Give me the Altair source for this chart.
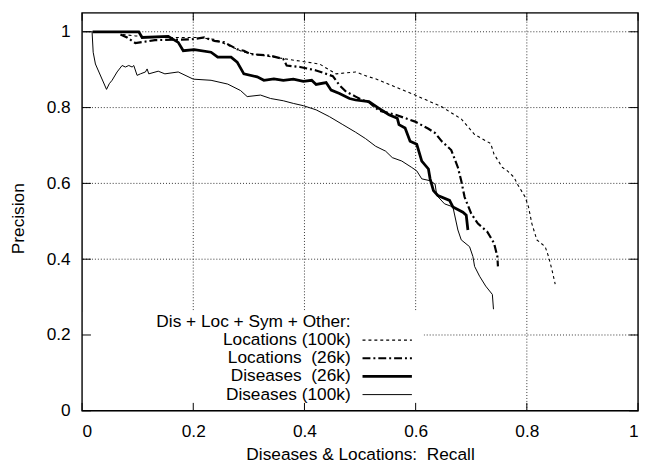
import altair as alt
import pandas as pd

# ---- data ----
x_ticks = [0, 0.2, 0.4, 0.6, 0.8, 1.0]
y_ticks = [0, 0.2, 0.4, 0.6, 0.8, 1.0]
grid_x = [0.2, 0.4, 0.6, 0.8]
grid_y = [0.2, 0.4, 0.6, 0.8, 1.0]

legend_title = "Dis + Loc + Sym + Other:"
series_names = ["Locations (100k)", "Locations\u00a0 (26k)", "Diseases\u00a0 (26k)", "Diseases (100k)"]

loc100_recall = [0.073, 0.096, 0.137, 0.208, 0.238, 0.291, 0.345, 0.427, 0.457, 0.492, 0.516, 0.528,
                 0.599, 0.647, 0.682, 0.706, 0.735, 0.741, 0.756, 0.765, 0.777, 0.783, 0.797, 0.803,
                 0.809, 0.818, 0.833, 0.839, 0.845, 0.851]
loc100_prec = [0.993, 0.989, 0.985, 0.985, 0.980, 0.946, 0.933, 0.915, 0.889, 0.894, 0.881, 0.876,
               0.833, 0.802, 0.770, 0.729, 0.705, 0.677, 0.642, 0.633, 0.616, 0.598, 0.564, 0.538,
               0.494, 0.451, 0.433, 0.407, 0.373, 0.334]

loc26_recall = [0.069, 0.081, 0.096, 0.131, 0.196, 0.220, 0.238, 0.256, 0.279, 0.291, 0.303, 0.339,
                0.362, 0.368, 0.392, 0.421, 0.451, 0.463, 0.475, 0.492, 0.504, 0.516, 0.534, 0.564,
                0.599, 0.623, 0.635, 0.647, 0.664, 0.676, 0.682, 0.688, 0.700, 0.712, 0.729, 0.741,
                0.747, 0.748]
loc26_prec = [0.993, 0.985, 0.970, 0.978, 0.980, 0.985, 0.976, 0.972, 0.954, 0.950, 0.941, 0.937,
              0.928, 0.911, 0.907, 0.898, 0.883, 0.859, 0.842, 0.829, 0.820, 0.814, 0.792, 0.781,
              0.763, 0.744, 0.733, 0.711, 0.688, 0.642, 0.607, 0.564, 0.520, 0.494, 0.472, 0.442,
              0.407, 0.381]

dis26_recall = [0.019, 0.102, 0.108, 0.155, 0.173, 0.182, 0.202, 0.232, 0.244, 0.268, 0.279, 0.291,
                0.315, 0.327, 0.345, 0.362, 0.380, 0.398, 0.413, 0.421, 0.439, 0.448, 0.463, 0.481,
                0.492, 0.516, 0.534, 0.552, 0.567, 0.570, 0.581, 0.590, 0.602, 0.611, 0.623, 0.626,
                0.632, 0.640, 0.661, 0.667, 0.685, 0.691, 0.694]
dis26_prec = [1.0, 1.0, 0.985, 0.988, 0.972, 0.950, 0.953, 0.946, 0.933, 0.933, 0.920, 0.889,
              0.881, 0.872, 0.876, 0.872, 0.875, 0.869, 0.872, 0.861, 0.866, 0.846, 0.837, 0.824,
              0.820, 0.816, 0.798, 0.781, 0.772, 0.755, 0.746, 0.711, 0.703, 0.659, 0.638, 0.612,
              0.581, 0.568, 0.555, 0.538, 0.524, 0.516, 0.477]

dis100_recall = [0.003, 0.018, 0.020, 0.024, 0.044, 0.049, 0.054, 0.063, 0.072, 0.078, 0.084, 0.090,
                 0.093, 0.099, 0.105, 0.114, 0.117, 0.120, 0.137, 0.149, 0.173, 0.200, 0.232, 0.262,
                 0.285, 0.297, 0.321, 0.339, 0.362, 0.380, 0.398, 0.421, 0.445, 0.469, 0.492, 0.510,
                 0.528, 0.546, 0.558, 0.575, 0.593, 0.602, 0.611, 0.626, 0.635, 0.638, 0.652, 0.667,
                 0.676, 0.682, 0.697, 0.703, 0.706, 0.715, 0.726, 0.738, 0.740]
dis100_prec = [1.0, 1.0, 0.946, 0.915, 0.848, 0.863, 0.872, 0.894, 0.911, 0.907, 0.911, 0.907,
               0.911, 0.885, 0.889, 0.894, 0.902, 0.889, 0.896, 0.889, 0.894, 0.875, 0.872, 0.862,
               0.845, 0.829, 0.833, 0.824, 0.818, 0.811, 0.805, 0.794, 0.776, 0.755, 0.735, 0.718,
               0.698, 0.685, 0.668, 0.659, 0.642, 0.633, 0.612, 0.607, 0.598, 0.568, 0.546, 0.538,
               0.477, 0.451, 0.433, 0.407, 0.381, 0.355, 0.329, 0.307, 0.268]

# ---- styling ----
FONT = "Liberation Sans"
FS = 17.5
W, H = 563, 403
styles = [
    dict(strokeWidth=1.1, strokeDash=[3, 3]),
    dict(strokeWidth=2.2, strokeDash=[8, 3, 2, 3]),
    dict(strokeWidth=2.8),
    dict(strokeWidth=1.0),
]
curves = [(loc100_recall, loc100_prec), (loc26_recall, loc26_prec),
          (dis26_recall, dis26_prec), (dis100_recall, dis100_prec)]

xs = alt.Scale(domain=[0, 1], nice=False, zero=False)
ys = alt.Scale(domain=[0, 1.05], nice=False, zero=False)

x_axis = alt.Axis(values=x_ticks, format="~g", grid=False, ticks=False, tickSize=0, domain=False,
                  labelFont=FONT, labelFontSize=FS, labelColor="black", labelPadding=12,
                  title="Diseases & Locations:\u00a0 Recall", titleFont=FONT, titleFontSize=FS,
                  titleFontWeight="normal", titleColor="black", titleY=44, titleBaseline="middle")
y_axis = alt.Axis(values=y_ticks, format="~g", grid=False, ticks=False, tickSize=0, domain=False,
                  labelFont=FONT, labelFontSize=FS, labelColor="black", labelPadding=12,
                  title="Precision", titleFont=FONT, titleFontSize=FS, titleFontWeight="normal",
                  titleColor="black", titleX=-64, titleY=208, titleAngle=270,
                  titleBaseline="middle", titleAlign="center")

grid_style = dict(color="#333", strokeDash=[1, 2], strokeWidth=1)

base = alt.Chart(pd.DataFrame({"r": [0, 1], "p": [0, 1.05]})).mark_point(opacity=0).encode(
    x=alt.X("r:Q", scale=xs, axis=x_axis),
    y=alt.Y("p:Q", scale=ys, axis=y_axis),
)

vgrid = alt.Chart(pd.DataFrame({"g": grid_x})).mark_rule(**grid_style).encode(x=alt.X("g:Q", scale=xs))
hgrid = alt.Chart(pd.DataFrame({"g": grid_y})).mark_rule(**grid_style).encode(y=alt.Y("g:Q", scale=ys))

legend_box = alt.Chart(alt.Data(values=[{}])).mark_rect(fill="white", stroke=None).encode(
    x=alt.value(0), x2=alt.value(346), y=alt.value(303), y2=alt.value(H))

layers = [base, vgrid, hgrid, legend_box]

for i, ((rr, pp), st) in enumerate(zip(curves, styles)):
    df = pd.DataFrame({"r": rr, "p": pp, "i": range(len(rr))})
    layers.append(
        alt.Chart(df).mark_line(color="black", **st).encode(
            x=alt.X("r:Q", scale=xs), y=alt.Y("p:Q", scale=ys), order="i:Q")
    )

# legend texts and samples
leg_rows = [legend_title] + series_names
leg_df = pd.DataFrame({"t": leg_rows, "ly": [313 + 18.4 * k for k in range(len(leg_rows))]})
layers.append(
    alt.Chart(leg_df).mark_text(align="right", baseline="middle", font=FONT, fontSize=FS,
                                color="black").encode(
        x=alt.value(272), y=alt.Y("ly:Q", scale=None), text="t:N")
)
for k, st in enumerate(styles):
    ly = 313 + 18.4 * (k + 1)
    layers.append(
        alt.Chart(alt.Data(values=[{}])).mark_rule(color="black", **st).encode(
            x=alt.value(284), x2=alt.value(334), y=alt.value(ly))
    )

# inward ticks (gnuplot style, mirrored)
tick_style = dict(color="black", strokeWidth=1)
ydf = pd.DataFrame({"t": y_ticks})
xdf = pd.DataFrame({"t": x_ticks})
layers += [
    alt.Chart(ydf).mark_rule(**tick_style).encode(y=alt.Y("t:Q", scale=ys), x=alt.value(0), x2=alt.value(9)),
    alt.Chart(ydf).mark_rule(**tick_style).encode(y=alt.Y("t:Q", scale=ys), x=alt.value(W - 9), x2=alt.value(W)),
    alt.Chart(xdf).mark_rule(**tick_style).encode(x=alt.X("t:Q", scale=xs), y=alt.value(H - 8), y2=alt.value(H)),
    alt.Chart(xdf).mark_rule(**tick_style).encode(x=alt.X("t:Q", scale=xs), y=alt.value(0), y2=alt.value(8)),
]

frame = alt.Chart(alt.Data(values=[{}])).mark_rect(fill="white", fillOpacity=0, stroke="black",
                                                    strokeWidth=1.4).encode(
    x=alt.value(0), x2=alt.value(W), y=alt.value(0), y2=alt.value(H))
layers.append(frame)

chart = alt.layer(*layers).properties(
    width=W, height=H,
    autosize=alt.AutoSizeParams(type="none"),
    padding={"left": 75, "top": 2, "right": 3, "bottom": 52},
).configure_view(stroke=None).configure(background="white")

chart.save("out.html", embed_options={"renderer": "svg", "actions": False})
